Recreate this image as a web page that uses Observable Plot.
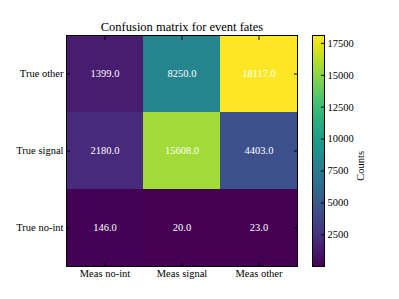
<!DOCTYPE html>
<html>
<head>
<meta charset="utf-8">
<script src="https://cdn.jsdelivr.net/npm/d3@7"></script>
<script src="https://cdn.jsdelivr.net/npm/@observablehq/plot@0.6"></script>
<style>
  html, body { margin: 0; padding: 0; background: #fff; }
  #wrap { position: relative; width: 399px; height: 299px; }
  #wrap > svg { position: absolute; left: 0; top: 0; }
  #wrap svg text { font-family: "Liberation Serif", "Times New Roman", serif !important; }
</style>
</head>
<body>
<div id="wrap"></div>
<script>
const measLabels = ["Meas no-int", "Meas signal", "Meas other"];
const trueLabels = ["True other", "True signal", "True no-int"];
const countsOther  = [1399, 8250, 18117];
const countsSignal = [2180, 15608, 4403];
const countsNoInt  = [146, 20, 23];
const colorbarTicks = [2500, 5000, 7500, 10000, 12500, 15000, 17500];
const titleText = "Confusion matrix for event fates";
const colorbarLabel = "Counts";

const rows = [countsOther, countsSignal, countsNoInt];
const data = [];
rows.forEach((r, i) => r.forEach((v, j) => data.push({meas: measLabels[j], tru: trueLabels[i], v})));
const vmin = d3.min(data, d => d.v), vmax = d3.max(data, d => d.v);

const font = "'Liberation Serif', 'Times New Roman', serif";
const W = 399, H = 299;

const main = Plot.plot({
  width: W, height: H,
  marginLeft: 66, marginRight: 102, marginTop: 35, marginBottom: 33,
  style: {fontFamily: font, fontSize: "10.5px", color: "black", background: "transparent"},
  x: {type: "band", domain: measLabels, padding: 0},
  y: {type: "band", domain: trueLabels, padding: 0},
  color: {type: "linear", scheme: "viridis", domain: [vmin, vmax]},
  marks: [
    Plot.cell(data, {x: "meas", y: "tru", fill: "v"}),
    Plot.text(data, {x: "meas", y: "tru", text: d => d.v.toFixed(1), fill: "white", fontSize: 10.5, fontFamily: font}),
    Plot.frame({stroke: "black", strokeWidth: 1}),
    Plot.axisX({anchor: "bottom", tickSize: -4, tickPadding: 7, label: null, fontSize: 10.5, fontFamily: font}),
    Plot.axisX({anchor: "top", tickSize: -4, tickFormat: () => "", label: null}),
    Plot.axisY({anchor: "left", tickSize: -4, tickPadding: 7, label: null, fontSize: 10.5, fontFamily: font}),
    Plot.axisY({anchor: "right", tickSize: -4, tickFormat: () => "", label: null}),
    Plot.text([titleText], {frameAnchor: "top", lineAnchor: "bottom", dy: -5, fontSize: 12.5, fill: "black", fontFamily: font})
  ]
});

const cbar = Plot.plot({
  width: W, height: H,
  marginLeft: 312, marginRight: 75, marginTop: 35, marginBottom: 33,
  style: {fontFamily: font, fontSize: "10.5px", color: "black", background: "transparent"},
  x: {type: "linear", domain: [0, 1], axis: null},
  y: {type: "linear", domain: [vmin, vmax]},
  marks: [
    (index, scales, values, dims) => {
      const g = d3.create("svg:g");
      const grad = g.append("defs").append("linearGradient")
        .attr("id", "cbgrad").attr("x1", 0).attr("x2", 0).attr("y1", 1).attr("y2", 0);
      d3.range(0, 1.0001, 0.05).forEach(t =>
        grad.append("stop").attr("offset", t).attr("stop-color", d3.interpolateViridis(t)));
      g.append("rect")
        .attr("x", dims.marginLeft).attr("y", dims.marginTop)
        .attr("width", dims.width - dims.marginLeft - dims.marginRight)
        .attr("height", dims.height - dims.marginTop - dims.marginBottom)
        .attr("fill", "url(#cbgrad)");
      return g.node();
    },
    Plot.frame({stroke: "black", strokeWidth: 1}),
    Plot.axisY({anchor: "right", ticks: colorbarTicks, tickSize: -4, tickPadding: 7, tickFormat: d => String(d), label: null, fontSize: 10.5, fontFamily: font}),
    Plot.text([colorbarLabel], {frameAnchor: "right", dx: 36, rotate: -90, fontSize: 10.5, fill: "black", fontFamily: font})
  ]
});

const wrap = document.getElementById("wrap");
wrap.appendChild(main);
wrap.appendChild(cbar);
</script>
</body>
</html>
